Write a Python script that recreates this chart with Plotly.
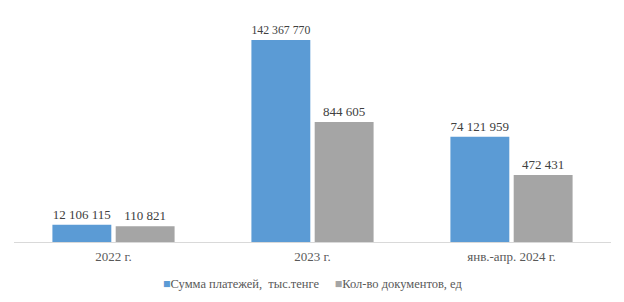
import plotly.graph_objects as go

categories = ["2022 г.", "2023 г.", "янв.-апр. 2024 г."]
payments = [12106115, 142367770, 74121959]
documents = [110821, 844605, 472431]
name_pay = "Сумма платежей,  тыс.тенге"
name_doc = "Кол-во документов, ед"
colors = ["#5B9BD5", "#A5A5A5"]

FONT = "Times New Roman, Liberation Serif, serif"

def fmt(v):
    return f"{v:,}".replace(",", " ")

fig = go.Figure()
fig.add_trace(go.Bar(
    x=categories, y=payments, name=name_pay, yaxis="y",
    marker=dict(color=colors[0], line=dict(width=0)),
    text=[fmt(v) for v in payments], textposition="outside",
    textfont=dict(family=FONT, size=13, color="#404040"),
    width=0.296, offset=-0.307, cliponaxis=False,
))
fig.add_trace(go.Bar(
    x=categories, y=documents, name=name_doc, yaxis="y2",
    marker=dict(color=colors[1], line=dict(width=0)),
    text=[fmt(v) for v in documents], textposition="outside",
    textfont=dict(family=FONT, size=13, color="#404040"),
    width=0.296, offset=0.011, cliponaxis=False,
))

legend_text = (
    f"<span style='color:{colors[0]}'>■</span>{name_pay.replace('  ', '&nbsp; ')}"
    f"&nbsp;&nbsp;&nbsp;&nbsp;&nbsp;"
    f"<span style='color:{colors[1]}'>■</span>{name_doc}"
)
fig.add_annotation(
    x=0.5, xref="paper", y=(242 - 284) / 232, yref="paper", text=legend_text, showarrow=False,
    font=dict(family=FONT, size=12.5, color="#595959"), xanchor="center", yanchor="middle",
)

fig.update_layout(
    width=624, height=302,
    margin=dict(l=14, r=13, t=10, b=60, autoexpand=False),
    paper_bgcolor="white", plot_bgcolor="white",
    showlegend=False,
    font=dict(family=FONT),
    xaxis=dict(showgrid=False, showline=True, linecolor="#D9D9D9", linewidth=1,
               ticks="", tickfont=dict(family=FONT, size=13, color="#595959"),
               ticklabelstandoff=2, automargin=False),
    yaxis=dict(range=[0, 163.5e6], visible=False, showgrid=False, zeroline=False),
    yaxis2=dict(range=[0, 1.633e6], overlaying="y", visible=False, showgrid=False, zeroline=False),
)

fig.write_html("out.html")
